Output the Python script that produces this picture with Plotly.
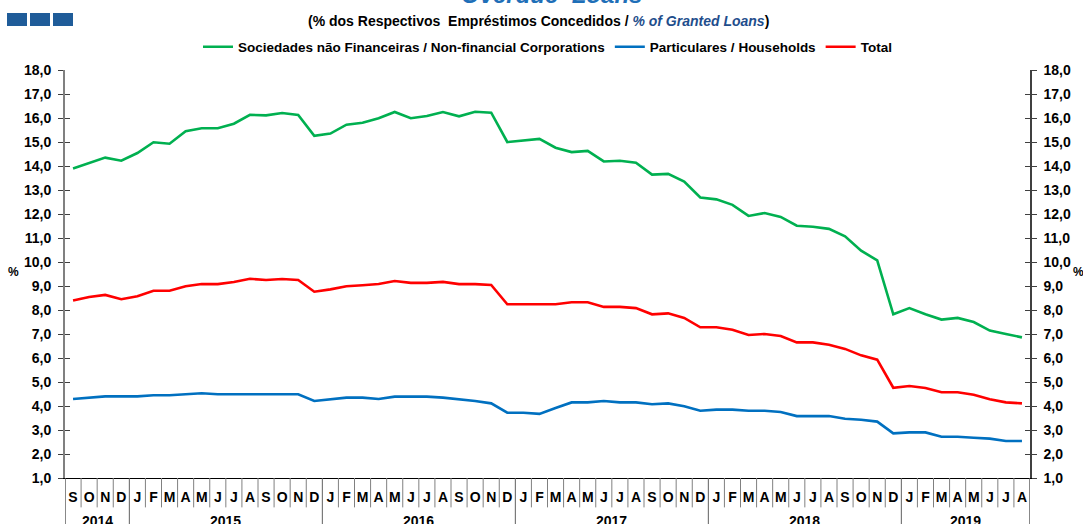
import plotly.graph_objects as go

# ---- data ----
month_letters = ["S", "O", "N", "D",
                 "J", "F", "M", "A", "M", "J", "J", "A", "S", "O", "N", "D",
                 "J", "F", "M", "A", "M", "J", "J", "A", "S", "O", "N", "D",
                 "J", "F", "M", "A", "M", "J", "J", "A", "S", "O", "N", "D",
                 "J", "F", "M", "A", "M", "J", "J", "A", "S", "O", "N", "D",
                 "J", "F", "M", "A", "M", "J", "J", "A"]
year_labels = ["2014", "2015", "2016", "2017", "2018", "2019"]
months_per_year = [4, 12, 12, 12, 12, 8]

corporations = [13.90, 14.13, 14.35, 14.22, 14.54, 14.99, 14.93, 15.45, 15.57, 15.57,
                15.76, 16.13, 16.11, 16.21, 16.13, 15.26, 15.35, 15.72, 15.80, 15.99,
                16.25, 15.99, 16.08, 16.25, 16.07, 16.26, 16.22, 15.00, 15.08, 15.13,
                14.76, 14.58, 14.63, 14.19, 14.22, 14.14, 13.64, 13.67, 13.35, 12.69,
                12.61, 12.38, 11.92, 12.04, 11.88, 11.51, 11.47, 11.38, 11.07, 10.47,
                10.07, 7.82, 8.08, 7.82, 7.60, 7.67, 7.50, 7.14, 7.00, 6.86]
households = [4.29, 4.35, 4.40, 4.40, 4.40, 4.45, 4.45, 4.49, 4.53, 4.49,
              4.49, 4.49, 4.49, 4.49, 4.49, 4.21, 4.29, 4.35, 4.35, 4.29,
              4.39, 4.39, 4.39, 4.35, 4.29, 4.21, 4.11, 3.72, 3.72, 3.67,
              3.92, 4.15, 4.15, 4.21, 4.15, 4.15, 4.07, 4.11, 3.99, 3.80,
              3.85, 3.85, 3.80, 3.80, 3.75, 3.58, 3.58, 3.58, 3.47, 3.43,
              3.35, 2.86, 2.90, 2.90, 2.72, 2.72, 2.68, 2.64, 2.54, 2.54]
total = [8.40, 8.54, 8.63, 8.45, 8.57, 8.80, 8.80, 8.99, 9.08, 9.08,
         9.17, 9.30, 9.25, 9.29, 9.25, 8.76, 8.86, 8.99, 9.03, 9.08,
         9.21, 9.13, 9.13, 9.17, 9.08, 9.08, 9.04, 8.24, 8.24, 8.24,
         8.24, 8.32, 8.32, 8.13, 8.13, 8.08, 7.82, 7.86, 7.67, 7.28,
         7.28, 7.18, 6.96, 7.00, 6.92, 6.65, 6.65, 6.55, 6.38, 6.11,
         5.93, 4.76, 4.83, 4.75, 4.57, 4.57, 4.47, 4.28, 4.15, 4.11]

series_names = ["Sociedades não Financeiras / Non-financial Corporations",
                "Particulares / Households", "Total"]
series_colors = ["#00B050", "#0070C0", "#FF0000"]

# category keys (one per month)
categories = []
for y, n in zip(year_labels, months_per_year):
    start = len(categories)
    for k in range(n):
        categories.append(f"{y}-{month_letters[start + k]}-{start + k}")

FONT = "Arial, Liberation Sans, sans-serif"
BOLD = dict(family=FONT, size=14, color="#000000", weight="bold")

fig = go.Figure()
for vals, name, col in zip([corporations, households, total], series_names, series_colors):
    fig.add_trace(go.Scatter(x=categories, y=vals, name=name, mode="lines",
                             line=dict(color=col, width=2.6), xaxis="x", yaxis="y"))

# invisible helpers so the extra tick axes are drawn
for ax in ["y2", "y3", "y4"]:
    fig.add_trace(go.Scatter(x=categories, y=total, mode="lines", showlegend=False,
                             hoverinfo="skip", line=dict(color="rgba(0,0,0,0)", width=0),
                             xaxis="x", yaxis=ax))

yrange = [1, 18]
ytick = dict(range=yrange, dtick=1, tick0=1, tickformat=".1f", showgrid=False,
             zeroline=False, ticklen=5, tickwidth=1.2, tickcolor="#404040",
             automargin=False)

fig.update_layout(
    width=1083, height=524,
    margin=dict(l=65, r=53, t=70, b=46, autoexpand=False),
    paper_bgcolor="white", plot_bgcolor="white",
    separators=",.",
    font=dict(family=FONT, size=13, color="#000000"),
    showlegend=True,
    legend=dict(orientation="h", x=0.5, xanchor="center", y=(478 - 47) / 408, yanchor="middle",
                font=dict(family=FONT, size=13.5, color="#000000", weight="bold"),
                itemwidth=30, tracegroupgap=0, bgcolor="rgba(0,0,0,0)"),
    xaxis=dict(type="category", range=[-0.5, 59.5], tickmode="array",
               tickvals=categories, ticktext=month_letters, ticks="",
               ticklabelstandoff=6, automargin=False,
               tickfont=BOLD, showgrid=False, zeroline=False,
               showline=True, linecolor="#000000", linewidth=1),
    yaxis=dict(**ytick, side="left", ticks="outside", showline=True,
               linecolor="#808080", linewidth=2, tickfont=BOLD, ticklabelstandoff=4),
    yaxis2=dict(**ytick, side="right", overlaying="y", ticks="outside", showline=True,
                linecolor="#404040", linewidth=1.5, tickfont=BOLD, ticklabelstandoff=4),
    yaxis3=dict(**ytick, side="left", overlaying="y", ticks="inside",
                showticklabels=False, showline=False),
    yaxis4=dict(**ytick, side="right", overlaying="y", ticks="inside",
                showticklabels=False, showline=False),
)

shapes = []
# month separators below the axis
n = len(categories)
year_bounds = []
acc = 0
for m in months_per_year:
    year_bounds.append(acc)
    acc += m
year_bounds.append(acc)
for i in range(1, n):
    is_year = i in year_bounds
    shapes.append(dict(type="line", xref="x", yref="paper", x0=i - 0.5, x1=i - 0.5,
                       y0=0, y1=(-0.13 if is_year else -0.072),
                       line=dict(color="#606060" if is_year else "#808080", width=1)))
for edge in [-0.5, n - 0.5]:
    shapes.append(dict(type="line", xref="x", yref="paper", x0=edge, x1=edge,
                       y0=0, y1=-0.13, line=dict(color="#606060", width=1.5)))
# header decoration squares
for k in range(3):
    shapes.append(dict(type="rect", xref="paper", yref="paper",
                       x0=(7 + 23 * k - 65) / 965, x1=(27 + 23 * k - 65) / 965,
                       y0=(478 - 26) / 408, y1=(478 - 13) / 408,
                       fillcolor="#1F5C99", line=dict(width=0)))
fig.update_layout(shapes=shapes)

annotations = []
for j, (y, m) in enumerate(zip(year_labels, months_per_year)):
    center = (year_bounds[j] + year_bounds[j + 1] - 1) / 2
    annotations.append(dict(x=center, y=-0.106, xref="x", yref="paper", text=y,
                            showarrow=False, yanchor="middle",
                            font=dict(family=FONT, size=14, color="#000000", weight="bold")))
annotations.append(dict(x=(21 - 65) / 965, y=0.505, xref="paper", yref="paper", text="%",
                        xanchor="right", showarrow=False,
                        font=dict(family=FONT, size=12, weight="bold")))
annotations.append(dict(x=(1071 - 65) / 965, y=0.505, xref="paper", yref="paper", text="%",
                        xanchor="left", showarrow=False,
                        font=dict(family=FONT, size=12, weight="bold")))
annotations.append(dict(x=(538 - 65) / 965, y=(478 - 21) / 408, xref="paper", yref="paper",
                        yanchor="middle", showarrow=False,
                        text="(% dos Respectivos  Empréstimos Concedidos / "
                             "<span style='color:#1F4E8C'><i>% of Granted Loans</i></span>)",
                        font=dict(family=FONT, size=14, color="#000000", weight="bold")))
annotations.append(dict(x=(551 - 65) / 965, y=(478 - 10) / 408, xref="paper", yref="paper",
                        yanchor="bottom", showarrow=False,
                        text="<i>Overdue  Loans</i>",
                        font=dict(family=FONT, size=24, color="#1F6FB8", weight="bold")))
fig.update_layout(annotations=annotations)

fig.write_html("out.html", config={"displayModeBar": False},
               post_script="document.body.style.margin='0';document.body.style.overflow='hidden';")
